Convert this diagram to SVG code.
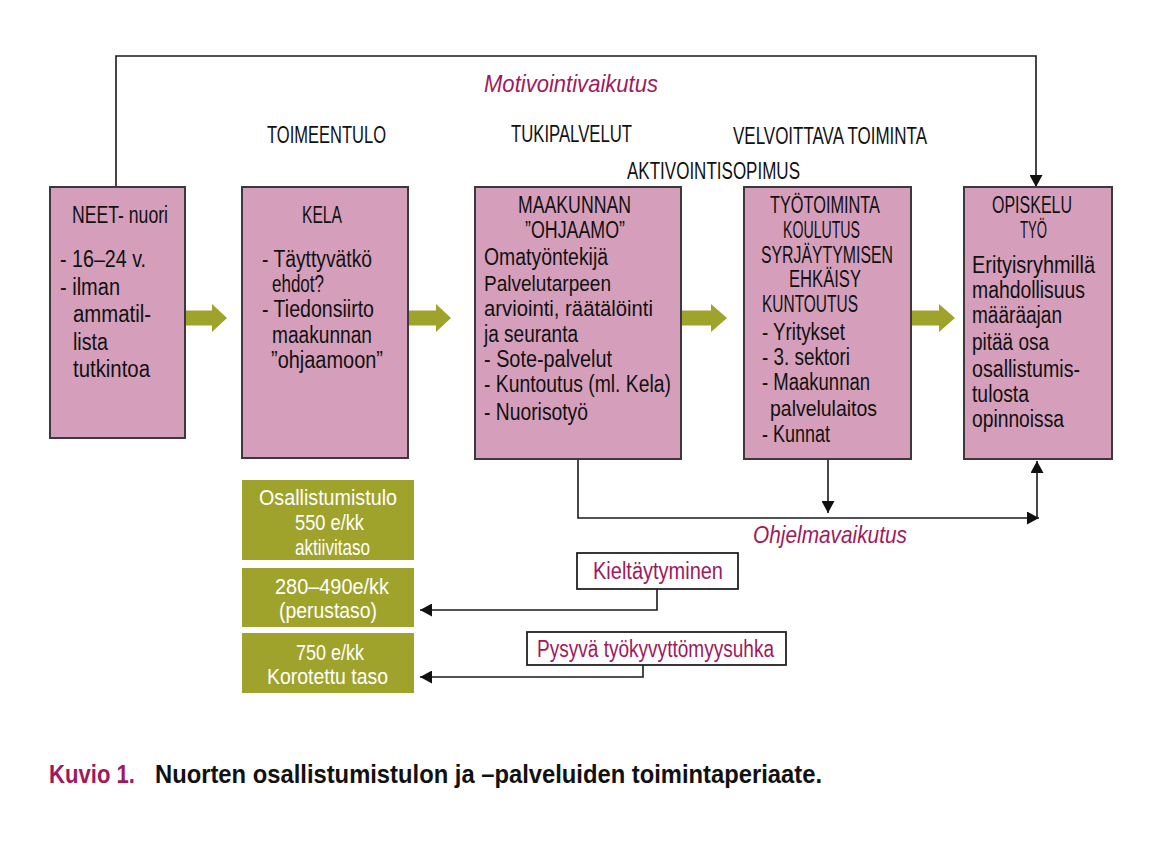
<svg xmlns="http://www.w3.org/2000/svg" width="1169" height="850" viewBox="0 0 1169 850">
<style>
.box{fill:#d59fbb;stroke:#3a3a3a;stroke-width:2}
.gbox{fill:#9fa32b}
.lbox{fill:#ffffff;stroke:#222;stroke-width:1.8}
.garrow{fill:#9fa32b}
.t{font-family:"Liberation Sans Narrow","Liberation Sans",Arial,sans-serif;font-size:23px;fill:#111}
.s{font-size:22px}
.w{font-family:"Liberation Sans Narrow","Liberation Sans",Arial,sans-serif;font-size:22px;fill:#ffffff}
.m{font-family:"Liberation Sans Narrow","Liberation Sans",Arial,sans-serif;font-size:23px;fill:#9e1a5c}
.mi{font-family:"Liberation Sans Narrow","Liberation Sans",Arial,sans-serif;font-size:24px;font-style:italic;fill:#9e1a5c}
.cap{font-family:"Liberation Sans Narrow","Liberation Sans",Arial,sans-serif;font-size:26px;font-weight:bold}
.conn{fill:none;stroke:#1a1a1a;stroke-width:1.6}
</style>
<defs>
<marker id="ah" markerUnits="userSpaceOnUse" markerWidth="13" markerHeight="13" refX="12" refY="6.5" orient="auto">
<path d="M0,0 L12,6.5 L0,13 z" fill="#111"/>
</marker>
</defs>
<rect width="1169" height="850" fill="#ffffff"/>

<g id="labels">
<text class="mi" x="484" y="92" textLength="174" lengthAdjust="spacingAndGlyphs">Motivointivaikutus</text>
<text class="t" x="267" y="143" textLength="119" lengthAdjust="spacingAndGlyphs">TOIMEENTULO</text>
<text class="t" x="511" y="142" textLength="121" lengthAdjust="spacingAndGlyphs">TUKIPALVELUT</text>
<text class="t" x="733" y="144" textLength="194" lengthAdjust="spacingAndGlyphs">VELVOITTAVA TOIMINTA</text>
<text class="t" x="627" y="179" textLength="173" lengthAdjust="spacingAndGlyphs">AKTIVOINTISOPIMUS</text>
<text class="mi" x="753" y="543" textLength="154" lengthAdjust="spacingAndGlyphs">Ohjelmavaikutus</text>
</g>

<g id="connectors">
<path class="conn" d="M116,187 V56 H1036 V187" marker-end="url(#ah)"/>
<path class="conn" d="M578,459 V518 H1039" marker-end="url(#ah)"/>
<path class="conn" d="M828,459 V513" marker-end="url(#ah)"/>
<path class="conn" d="M1037,518 V461" marker-end="url(#ah)"/>
<path class="conn" d="M657,589 V610 H420" marker-end="url(#ah)"/>
<path class="conn" d="M643,665 V677 H420" marker-end="url(#ah)"/>
<polygon class="garrow" points="185,310.5 212,310.5 212,304 227,318 212,332 212,325.5 185,325.5"/>
<polygon class="garrow" points="409,310.5 436,310.5 436,304 451,318 436,332 436,325.5 409,325.5"/>
<polygon class="garrow" points="682,310.5 711,310.5 711,304 727,318 711,332 711,325.5 682,325.5"/>
<polygon class="garrow" points="912,310.5 939,310.5 939,304 955,318 939,332 939,325.5 912,325.5"/>
</g>

<g id="neet">
<rect class="box" x="50" y="187" width="135" height="251"/>
<text class="t" x="72" y="223" textLength="96" lengthAdjust="spacingAndGlyphs">NEET- nuori</text>
<text class="t" x="60" y="267" textLength="86" lengthAdjust="spacingAndGlyphs">- 16–24 v.</text>
<text class="t" x="60" y="295" textLength="60" lengthAdjust="spacingAndGlyphs">- ilman</text>
<text class="t" x="73" y="322" textLength="78" lengthAdjust="spacingAndGlyphs">ammatil-</text>
<text class="t" x="73" y="350" textLength="35" lengthAdjust="spacingAndGlyphs">lista</text>
<text class="t" x="73" y="377" textLength="77" lengthAdjust="spacingAndGlyphs">tutkintoa</text>
</g>

<g id="kela">
<rect class="box" x="242" y="187" width="166" height="271"/>
<text class="t" x="302" y="223" textLength="40" lengthAdjust="spacingAndGlyphs">KELA</text>
<text class="t" x="262" y="267" textLength="110" lengthAdjust="spacingAndGlyphs">- Täyttyvätkö</text>
<text class="t" x="272" y="292" textLength="52" lengthAdjust="spacingAndGlyphs">ehdot?</text>
<text class="t" x="262" y="317" textLength="112" lengthAdjust="spacingAndGlyphs">- Tiedonsiirto</text>
<text class="t" x="272" y="343" textLength="100" lengthAdjust="spacingAndGlyphs">maakunnan</text>
<text class="t" x="271" y="368" textLength="112" lengthAdjust="spacingAndGlyphs">”ohjaamoon”</text>
</g>

<g id="ohjaamo">
<rect class="box" x="475" y="187" width="206" height="272"/>
<text class="t" x="518" y="213" textLength="113" lengthAdjust="spacingAndGlyphs">MAAKUNNAN</text>
<text class="t" x="525" y="238" textLength="100" lengthAdjust="spacingAndGlyphs">”OHJAAMO”</text>
<text class="t" x="484" y="265" textLength="124" lengthAdjust="spacingAndGlyphs">Omatyöntekijä</text>
<text class="t s" x="484" y="291" textLength="127" lengthAdjust="spacingAndGlyphs">Palvelutarpeen</text>
<text class="t s" x="484" y="316" textLength="169" lengthAdjust="spacingAndGlyphs">arviointi, räätälöinti</text>
<text class="t" x="484" y="342" textLength="94" lengthAdjust="spacingAndGlyphs">ja seuranta</text>
<text class="t" x="484" y="367" textLength="128" lengthAdjust="spacingAndGlyphs">- Sote-palvelut</text>
<text class="t" x="484" y="392" textLength="187" lengthAdjust="spacingAndGlyphs">- Kuntoutus (ml. Kela)</text>
<text class="t" x="484" y="420" textLength="104" lengthAdjust="spacingAndGlyphs">- Nuorisotyö</text>
</g>

<g id="tyotoiminta">
<rect class="box" x="744" y="187" width="167" height="272"/>
<text class="t" x="770" y="213" textLength="110" lengthAdjust="spacingAndGlyphs">TYÖTOIMINTA</text>
<text class="t" x="783" y="238" textLength="77" lengthAdjust="spacingAndGlyphs">KOULUTUS</text>
<text class="t" x="761" y="263" textLength="132" lengthAdjust="spacingAndGlyphs">SYRJÄYTYMISEN</text>
<text class="t" x="789" y="287" textLength="72" lengthAdjust="spacingAndGlyphs">EHKÄISY</text>
<text class="t" x="762" y="312" textLength="96" lengthAdjust="spacingAndGlyphs">KUNTOUTUS</text>
<text class="t" x="762" y="340" textLength="83" lengthAdjust="spacingAndGlyphs">- Yritykset</text>
<text class="t" x="762" y="365" textLength="88" lengthAdjust="spacingAndGlyphs">- 3. sektori</text>
<text class="t" x="762" y="390" textLength="108" lengthAdjust="spacingAndGlyphs">- Maakunnan</text>
<text class="t s" x="770" y="416" textLength="107" lengthAdjust="spacingAndGlyphs">palvelulaitos</text>
<text class="t" x="762" y="442" textLength="68" lengthAdjust="spacingAndGlyphs">- Kunnat</text>
</g>

<g id="opiskelu">
<rect class="box" x="964" y="187" width="148" height="272"/>
<text class="t" x="992" y="213" textLength="80" lengthAdjust="spacingAndGlyphs">OPISKELU</text>
<text class="t" x="1020" y="238" textLength="27" lengthAdjust="spacingAndGlyphs">TYÖ</text>
<text class="t" x="972" y="273" textLength="123" lengthAdjust="spacingAndGlyphs">Erityisryhmillä</text>
<text class="t" x="972" y="298" textLength="113" lengthAdjust="spacingAndGlyphs">mahdollisuus</text>
<text class="t" x="972" y="323" textLength="90" lengthAdjust="spacingAndGlyphs">määräajan</text>
<text class="t" x="972" y="350" textLength="77" lengthAdjust="spacingAndGlyphs">pitää osa</text>
<text class="t" x="972" y="377" textLength="108" lengthAdjust="spacingAndGlyphs">osallistumis-</text>
<text class="t" x="972" y="402" textLength="57" lengthAdjust="spacingAndGlyphs">tulosta</text>
<text class="t" x="972" y="427" textLength="92" lengthAdjust="spacingAndGlyphs">opinnoissa</text>
</g>

<g id="osallistumistulo">
<rect class="gbox" x="242" y="480" width="172" height="80"/>
<text class="w" x="259" y="505" textLength="138" lengthAdjust="spacingAndGlyphs">Osallistumistulo</text>
<text class="w" x="295" y="530" textLength="69" lengthAdjust="spacingAndGlyphs">550 e/kk</text>
<text class="w" x="295" y="555" textLength="75" lengthAdjust="spacingAndGlyphs">aktiivitaso</text>
</g>

<g id="perustaso">
<rect class="gbox" x="242" y="568" width="172" height="59"/>
<text class="w" x="275" y="594" textLength="114" lengthAdjust="spacingAndGlyphs">280–490e/kk</text>
<text class="w" x="279" y="618" textLength="98" lengthAdjust="spacingAndGlyphs">(perustaso)</text>
</g>

<g id="korotettu">
<rect class="gbox" x="242" y="633" width="172" height="60"/>
<text class="w" x="296" y="660" textLength="68" lengthAdjust="spacingAndGlyphs">750 e/kk</text>
<text class="w" x="267" y="684" textLength="121" lengthAdjust="spacingAndGlyphs">Korotettu taso</text>
</g>

<g id="kieltaytyminen">
<rect class="lbox" x="577" y="553" width="161" height="36"/>
<text class="m" x="593" y="579" textLength="130" lengthAdjust="spacingAndGlyphs">Kieltäytyminen</text>
</g>

<g id="pysyva">
<rect class="lbox" x="527" y="632" width="259" height="33"/>
<text class="m" x="537" y="657" textLength="237" lengthAdjust="spacingAndGlyphs">Pysyvä työkyvyttömyysuhka</text>
</g>

<g id="caption">
<text class="cap" x="49" y="783" fill="#9e1a5c" textLength="86" lengthAdjust="spacingAndGlyphs">Kuvio 1.</text>
<text class="cap" x="155" y="783" fill="#111" textLength="667" lengthAdjust="spacingAndGlyphs">Nuorten osallistumistulon ja –palveluiden toimintaperiaate.</text>
</g>
</svg>
